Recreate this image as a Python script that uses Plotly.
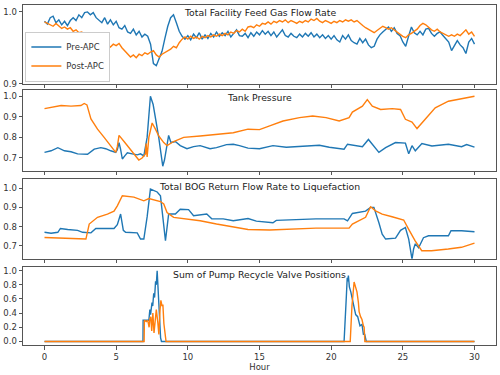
import plotly.graph_objects as go
from plotly.subplots import make_subplots

BLUE = "#1f77b4"
ORANGE = "#ff7f0e"

# ---------- Panel 1: Total Facility Feed Gas Flow Rate (0.2 h grid) ----------
feed_hours = [round(i * 0.2, 1) for i in range(151)]
feed_pre = [
    0.987, 0.983, 0.992, 0.994, 0.985, 0.989, 0.982, 0.987, 0.981, 0.988,
    0.992, 0.988, 0.996, 0.992, 0.999, 1.000, 0.996, 0.999, 0.992, 0.989,
    0.985, 0.992, 0.983, 0.989, 0.982, 0.987, 0.978, 0.976, 0.981, 0.972,
    0.970, 0.976, 0.968, 0.973, 0.965, 0.969, 0.966, 0.955, 0.928, 0.925,
    0.935, 0.945, 0.963, 0.980, 0.992, 0.996, 0.985, 0.973, 0.966, 0.962,
    0.967, 0.961, 0.969, 0.964, 0.971, 0.962, 0.968, 0.963, 0.970, 0.965,
    0.972, 0.966, 0.971, 0.967, 0.973, 0.965, 0.970, 0.975, 0.967, 0.966,
    0.970, 0.964, 0.971, 0.966, 0.972, 0.968, 0.974, 0.969, 0.973, 0.967,
    0.972, 0.965, 0.970, 0.975, 0.967, 0.965, 0.970, 0.966, 0.964, 0.969,
    0.965, 0.970, 0.966, 0.971, 0.965, 0.969, 0.964, 0.968, 0.963, 0.967,
    0.962, 0.967, 0.961, 0.958, 0.967, 0.962, 0.968, 0.960, 0.957, 0.955,
    0.963, 0.957, 0.962, 0.954, 0.950, 0.952, 0.962, 0.968, 0.972, 0.976,
    0.979, 0.973, 0.978, 0.970, 0.967, 0.958, 0.952, 0.966, 0.979, 0.971,
    0.968, 0.973, 0.968, 0.976, 0.977, 0.970, 0.966, 0.970, 0.972, 0.967,
    0.963, 0.958, 0.946, 0.953, 0.960, 0.954, 0.950, 0.942, 0.958, 0.963,
    0.955,
]
feed_post = [
    0.986, 0.984, 0.983, 0.980, 0.984, 0.981, 0.977, 0.979, 0.976, 0.978,
    0.973, 0.975, 0.971, 0.972, 0.968, 0.969, 0.965, 0.966, 0.962, 0.964,
    0.955, 0.952, 0.954, 0.951, 0.955, 0.953, 0.956, 0.950, 0.946, 0.942,
    0.937, 0.940, 0.936, 0.941, 0.939, 0.943, 0.941, 0.944, 0.946, 0.940,
    0.937, 0.941, 0.943, 0.945, 0.948, 0.952, 0.950, 0.957, 0.962, 0.965,
    0.962, 0.966, 0.963, 0.965, 0.962, 0.966, 0.964, 0.967, 0.965, 0.968,
    0.966, 0.969, 0.967, 0.970, 0.968, 0.972, 0.970, 0.974, 0.972, 0.976,
    0.973, 0.979, 0.980, 0.978, 0.982, 0.980, 0.984, 0.983, 0.986, 0.983,
    0.987, 0.985, 0.988, 0.986, 0.989, 0.985, 0.988, 0.986, 0.984, 0.987,
    0.985, 0.988, 0.986, 0.990, 0.988, 0.991, 0.987, 0.985, 0.988, 0.986,
    0.984, 0.987, 0.985, 0.988, 0.986, 0.989, 0.987, 0.989, 0.986, 0.988,
    0.984, 0.981, 0.978, 0.976, 0.973, 0.971, 0.974, 0.977, 0.980, 0.978,
    0.976, 0.978, 0.975, 0.972, 0.968, 0.966, 0.964, 0.968, 0.970, 0.973,
    0.976, 0.981, 0.984, 0.982, 0.978, 0.975, 0.973, 0.976, 0.972, 0.970,
    0.968, 0.966, 0.968, 0.966, 0.969, 0.967, 0.971, 0.975, 0.969, 0.972,
    0.966,
]

# ---------- Panel 2: Tank Pressure ----------
tank_pre_h = [0.0, 0.46, 0.93, 1.39, 1.85, 2.31, 3.0, 3.47, 3.93, 4.27, 4.62, 4.97,
              5.08, 5.2, 5.3, 5.43, 5.6, 5.78, 6.12, 6.47, 6.7, 6.93, 7.16, 7.39,
              7.58, 7.74, 7.97, 8.13, 8.25, 8.37, 8.55, 8.66, 8.82, 9.01, 9.13,
              9.47, 9.94, 10.4, 10.86, 11.55, 12.0, 12.7, 13.17, 13.6, 14.2, 15.0,
              15.94, 16.87, 17.79, 19.18, 19.87, 20.9, 21.14, 22.18, 22.6, 22.87,
              23.33, 23.8, 24.49, 25.18, 25.41, 25.64, 25.87, 26.33, 27.03, 28.18,
              29.1, 29.45, 30.0]
tank_pre = [0.727, 0.735, 0.75, 0.735, 0.73, 0.72, 0.718, 0.743, 0.75, 0.745, 0.735, 0.727,
            0.74, 0.775, 0.745, 0.695, 0.71, 0.725, 0.72, 0.715, 0.72, 0.71, 0.80, 1.0,
            0.96, 0.90, 0.80, 0.72, 0.66, 0.69, 0.78, 0.81, 0.775, 0.78, 0.78,
            0.76, 0.745, 0.755, 0.76, 0.745, 0.75, 0.765, 0.767, 0.76, 0.748, 0.745,
            0.76, 0.752, 0.756, 0.762, 0.752, 0.743, 0.767, 0.755, 0.79, 0.767,
            0.727, 0.75, 0.775, 0.772, 0.72, 0.76, 0.735, 0.77, 0.758, 0.767,
            0.755, 0.765, 0.753]
tank_post_h = [0.0, 0.46, 1.16, 1.85, 2.54, 2.77, 2.96, 3.24, 3.7, 4.16, 4.62, 4.97,
               5.08, 5.2, 5.55, 6.01, 6.35, 6.58, 6.81, 7.04, 7.09, 7.16, 7.28, 7.51,
               7.74, 7.97, 8.32, 8.55, 9.01, 9.71, 10.86, 12.0, 13.17, 14.2, 15.0,
               15.71, 16.64, 17.79, 18.71, 19.64, 20.56, 21.25, 21.48, 22.18, 22.52,
               22.87, 23.45, 24.26, 24.84, 25.18, 25.64, 25.99, 26.56, 27.26, 28.18,
               29.1, 30.0]
tank_post = [0.94, 0.945, 0.955, 0.952, 0.955, 0.965, 0.958, 0.89, 0.84, 0.80, 0.76, 0.727,
             0.755, 0.81, 0.78, 0.74, 0.715, 0.69, 0.70, 0.72, 0.77, 0.705, 0.80, 0.87,
             0.84, 0.807, 0.775, 0.76, 0.78, 0.80, 0.807, 0.815, 0.823, 0.84, 0.838,
             0.856, 0.88, 0.896, 0.904, 0.896, 0.88, 0.896, 0.923, 0.952, 0.984,
             0.952, 0.936, 0.94, 0.936, 0.888, 0.875, 0.843, 0.888, 0.944, 0.976,
             0.987, 1.0]

# ---------- Panel 3: Total BOG Return Flow Rate to Liquefaction ----------
bog_pre_h = [0.0, 0.46, 0.93, 1.11, 1.62, 2.31, 2.66, 3.24, 3.58, 3.93, 4.85, 5.08,
             5.31, 5.5, 5.66, 6.47, 6.7, 6.93, 7.16, 7.39, 7.86, 8.09, 8.25, 8.44,
             8.66, 9.13, 9.47, 10.05, 10.4, 11.32, 11.67, 12.47, 13.17, 14.2, 14.78,
             15.94, 16.17, 18.94, 20.9, 21.14, 21.48, 22.4, 22.75, 22.98, 23.33,
             23.56, 23.8, 24.49, 24.84, 25.18, 25.41, 25.52, 25.64, 25.75, 25.87,
             26.1, 26.44, 26.79, 28.18, 28.36, 29.1, 30.0]
bog_pre = [0.77, 0.765, 0.77, 0.79, 0.785, 0.78, 0.77, 0.767, 0.79, 0.79, 0.79, 0.81,
           0.865, 0.78, 0.77, 0.767, 0.735, 0.735, 0.85, 0.995, 0.98, 0.96, 0.865, 0.726,
           0.865, 0.865, 0.89, 0.888, 0.856, 0.865, 0.84, 0.84, 0.83, 0.842, 0.828,
           0.82, 0.832, 0.84, 0.84, 0.83, 0.868, 0.88, 0.90, 0.90, 0.82,
           0.76, 0.735, 0.74, 0.78, 0.795, 0.735, 0.683, 0.63, 0.683, 0.71,
           0.69, 0.742, 0.752, 0.752, 0.778, 0.778, 0.773]
bog_post_h = [0.0, 1.16, 2.54, 2.89, 3.12, 3.7, 4.39, 4.85, 5.08, 5.43, 6.24, 6.93,
              7.28, 7.62, 8.09, 8.32, 8.55, 9.01, 9.94, 10.86, 12.0, 13.17, 14.2,
              15.71, 18.94, 21.25, 21.48, 22.4, 22.75, 23.1, 23.56, 24.25, 25.06,
              25.4, 25.86, 26.32, 27.0, 28.17, 29.09, 30.0]
bog_post = [0.743, 0.74, 0.735, 0.735, 0.813, 0.848, 0.865, 0.88, 0.908, 0.96, 0.953, 0.934,
            0.946, 0.94, 0.93, 0.917, 0.873, 0.848, 0.84, 0.83, 0.813, 0.80, 0.785,
            0.782, 0.792, 0.792, 0.813, 0.848, 0.903, 0.882, 0.865, 0.851, 0.834,
            0.787, 0.726, 0.674, 0.674, 0.683, 0.692, 0.714]

# ---------- Panel 4: Sum of Pump Recycle Valve Positions ----------
pump_pre_h = [0.0, 6.87, 6.88, 7.28, 7.35, 7.4, 7.5, 7.55, 7.62, 7.68, 7.75, 7.8,
              7.86, 7.95, 8.02, 8.1, 8.16, 20.9, 21.05, 21.12, 21.16, 21.2, 21.27,
              21.37, 21.48, 21.55, 21.62, 21.71, 21.85, 21.92, 22.01, 22.15, 22.25,
              22.34, 22.45, 30.0]
pump_pre = [0.0, 0.0, 0.3, 0.3, 0.45, 0.38, 0.55, 0.5, 0.68, 0.62, 0.85, 0.8,
            1.0, 0.6, 0.25, 0.05, 0.0, 0.0, 0.6, 0.9, 0.85, 0.93, 0.77,
            0.7, 0.6, 0.55, 0.5, 0.38, 0.35, 0.3, 0.22, 0.24, 0.1,
            0.1, 0.0, 0.0]
pump_post_h = [0.0, 6.95, 6.97, 7.1, 7.2, 7.3, 7.35, 7.42, 7.48, 7.56, 7.64, 7.72,
               7.8, 7.9, 7.98, 8.06, 8.12, 8.2, 8.26, 8.33, 8.42, 8.48, 21.33, 21.45,
               21.6, 21.7, 21.8, 21.9, 21.95, 22.05, 22.15, 22.25, 22.3, 22.35, 30.0]
pump_post = [0.0, 0.0, 0.3, 0.28, 0.3, 0.2, 0.32, 0.35, 0.15, 0.4, 0.12, 0.33,
             0.45, 0.28, 0.1, 0.45, 0.58, 0.5, 0.52, 0.25, 0.05, 0.0, 0.0, 0.5,
             0.84, 0.78, 0.7, 0.55, 0.42, 0.35, 0.31, 0.22, 0.2, 0.0, 0.0]

titles = ["Total Facility Feed Gas Flow Rate", "Tank Pressure",
          "Total BOG Return Flow Rate to Liquefaction", "Sum of Pump Recycle Valve Positions"]
series = [
    (feed_hours, feed_pre, feed_hours, feed_post),
    (tank_pre_h, tank_pre, tank_post_h, tank_post),
    (bog_pre_h, bog_pre, bog_post_h, bog_post),
    (pump_pre_h, pump_pre, pump_post_h, pump_post),
]
y_ranges = [[0.9, 1.0097], [0.637, 1.029], [0.633, 1.047], [-0.05, 1.045]]
y_ticks = [[0.9, 1.0], [0.7, 0.8, 0.9, 1.0], [0.7, 0.8, 0.9, 1.0], [0.0, 0.2, 0.4, 0.6, 0.8, 1.0]]
domains = [[0.769, 1.0], [0.512, 0.749], [0.254, 0.488], [0.0, 0.228]]

fig = make_subplots(rows=4, cols=1, shared_xaxes=True, vertical_spacing=0.02)

for i, (xp, yp, xq, yq) in enumerate(series):
    r = i + 1
    fig.add_trace(go.Scatter(x=xp, y=yp, mode="lines", name="Pre-APC",
                             line=dict(color=BLUE, width=1.4), showlegend=(i == 0)), row=r, col=1)
    fig.add_trace(go.Scatter(x=xq, y=yq, mode="lines", name="Post-APC",
                             line=dict(color=ORANGE, width=1.4), showlegend=(i == 0)), row=r, col=1)

axis_style = dict(showline=True, mirror=True, linecolor="#555", linewidth=1,
                  ticks="outside", ticklen=3.5, tickcolor="#555", showgrid=False,
                  zeroline=False, tickfont=dict(size=8.5, color="#333"))

for i in range(4):
    suffix = "" if i == 0 else str(i + 1)
    fig.layout["xaxis" + suffix].update(range=[-1.5, 31.5], tickvals=[0, 5, 10, 15, 20, 25, 30],
                                         domain=[0, 1], **axis_style)
    fig.layout["yaxis" + suffix].update(range=y_ranges[i], tickvals=y_ticks[i], tickformat=".1f",
                                         domain=domains[i], **axis_style)
    fig.add_annotation(text=titles[i], xref="paper", yref="paper", x=0.5, y=domains[i][1],
                       xanchor="center", yanchor="top", yshift=0, showarrow=False,
                       font=dict(size=9.3, color="#222"))

fig.layout.xaxis4.update(title=dict(text="Hour", font=dict(size=8.5, color="#333"), standoff=2))

fig.update_layout(
    width=500, height=375, autosize=False,
    margin=dict(l=23, r=3, t=3, b=30),
    plot_bgcolor="white", paper_bgcolor="white",
    font=dict(family="DejaVu Sans", size=8.5, color="#333"),
    legend=dict(x=0.005, y=0.775, xanchor="left", yanchor="bottom",
                bgcolor="white", bordercolor="#ccc", borderwidth=1, itemwidth=30,
                font=dict(size=8.5, color="#333"), tracegroupgap=0),
)

fig.write_html("out.html", config={"displayModeBar": False},
               post_script="document.body.style.margin='0';document.body.style.overflow='hidden';")
